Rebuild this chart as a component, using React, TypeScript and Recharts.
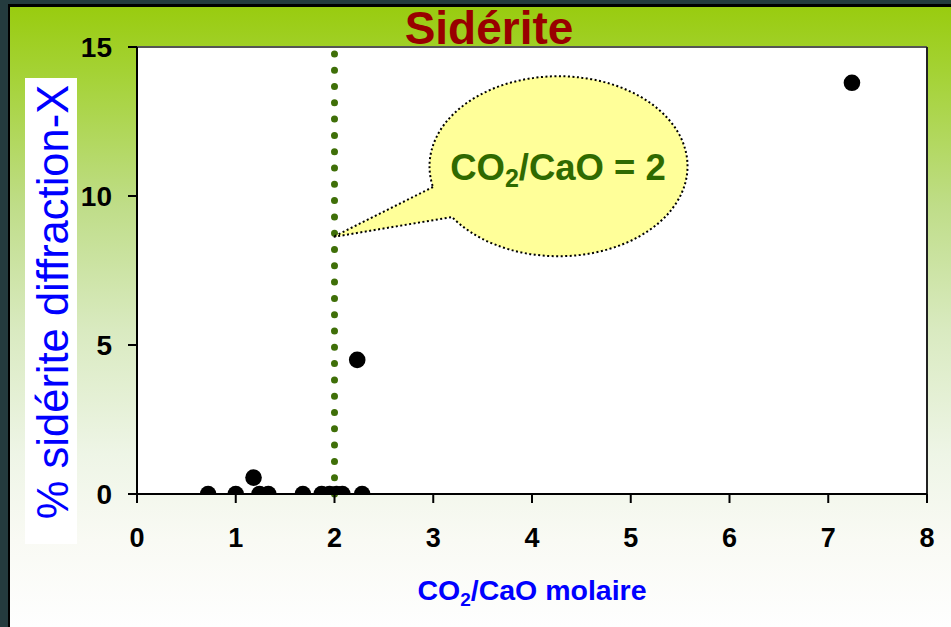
import { ScatterChart, Scatter, XAxis, YAxis, CartesianGrid, ReferenceLine } from "recharts";

// CO2/CaO molar ratio vs % siderite (X-ray diffraction)
const ratio = [0.72, 1.0, 1.18, 1.24, 1.33, 1.68, 1.87, 1.95, 2.02, 2.08, 2.23, 2.28, 7.24];
const siderite = [0, 0, 0.55, 0, 0, 0, 0, 0, 0, 0, 4.5, 0, 13.8];
const xTicks = [0, 1, 2, 3, 4, 5, 6, 7, 8];
const yTicks = [0, 5, 10, 15];
const threshold = 2;

const FONT = "'Liberation Sans', Arial, sans-serif";

const points = ratio.map((x, i) => ({ x, y: siderite[i] }));

function Dot(props: any) {
  return <circle cx={props.cx} cy={props.cy} r={8.3} fill="#000" />;
}

function XLabel({ viewBox }: any) {
  const cx = viewBox.x + viewBox.width / 2;
  return (
    <text x={cx} y={600} textAnchor="middle" fontFamily={FONT} fontWeight="bold" fontSize={28.5} fill="#0000ff">
      CO
      <tspan fontSize={19} dy={6}>2</tspan>
      <tspan dy={-6}>/CaO molaire</tspan>
    </text>
  );
}

function YLabel() {
  return (
    <g>
      <rect x={25} y={78} width={52} height={466} fill="#ffffff" />
      <text
        x={52}
        y={318}
        transform="rotate(-90 52 302)"
        textAnchor="middle"
        fontFamily={FONT}
        fontSize={43.5}
        fill="#0000ff"
      >
        % sidérite diffraction-X
      </text>
    </g>
  );
}

export default function App() {
  return (
    <div style={{ position: "relative", width: 951, height: 627, background: "#243b3e", overflow: "hidden" }}>
      <style>{"body{margin:0}"}</style>
      <div style={{ position: "absolute", left: 8, top: 4, right: 0, bottom: 0, background: "#000" }} />
      <div
        style={{
          position: "absolute",
          left: 10,
          top: 7,
          right: 0,
          bottom: 0,
          background:
            "linear-gradient(to bottom, #99cc0f 0%, #a6d33a 12%, #bfdd88 32%, #d9eac0 52%, #eef5e6 72%, #f9faf4 86%, #fefefe 100%)",
        }}
      />
      <div style={{ position: "absolute", left: 0, top: 0 }}>
        <ScatterChart width={951} height={627} margin={{ top: 47, right: 24, bottom: 0, left: 0 }}>
          <CartesianGrid fill="#ffffff" horizontal={false} vertical={false} />
          <XAxis
            type="number"
            dataKey="x"
            domain={[0, 8]}
            ticks={xTicks}
            height={133}
            tickSize={9}
            tickMargin={25}
            axisLine={{ stroke: "#000", strokeWidth: 2 }}
            tickLine={{ stroke: "#000", strokeWidth: 2 }}
            tick={{ fill: "#000", fontSize: 27, fontWeight: "bold", fontFamily: FONT }}
            label={<XLabel />}
            allowDataOverflow
          />
          <YAxis
            type="number"
            dataKey="y"
            domain={[0, 15]}
            ticks={yTicks}
            width={137}
            tickSize={9}
            tickMargin={16}
            axisLine={{ stroke: "#000", strokeWidth: 2 }}
            tickLine={{ stroke: "#000", strokeWidth: 2 }}
            tick={{ fill: "#000", fontSize: 28, fontWeight: "bold", fontFamily: FONT }}
            label={<YLabel />}
            allowDataOverflow
          />
          <ReferenceLine y={15} stroke="#555" strokeWidth={2} />
          <ReferenceLine x={8} stroke="#222" strokeWidth={2} />
          <Scatter data={points} fill="#000" shape={<Dot />} isAnimationActive={false} />
          <ReferenceLine
            segment={[
              { x: threshold, y: 0 },
              { x: threshold, y: 15 },
            ]}
            stroke="#3f6f08"
            strokeWidth={7}
            strokeLinecap="round"
            strokeDasharray="0 16.3"
          />
        </ScatterChart>
      </div>
      <svg width={951} height={627} style={{ position: "absolute", left: 0, top: 0, pointerEvents: "none" }}>
        <text x={489} y={44} textAnchor="middle" fontFamily={FONT} fontWeight="bold" fontSize={46} fill="#990000">
          Sidérite
        </text>
        <path
          d="M 433 187 L 333 237 L 452 217 A 129 90 0 1 0 433 187 Z"
          fill="#ffff99"
          stroke="#000"
          strokeWidth={2}
          strokeDasharray="2 2.5"
        />
        <text x={558} y={180} textAnchor="middle" fontFamily={FONT} fontWeight="bold" fontSize={36.5} fill="#2f6a00">
          CO
          <tspan fontSize={25} dy={7}>2</tspan>
          <tspan dy={-7}>/CaO = 2</tspan>
        </text>
      </svg>
    </div>
  );
}
